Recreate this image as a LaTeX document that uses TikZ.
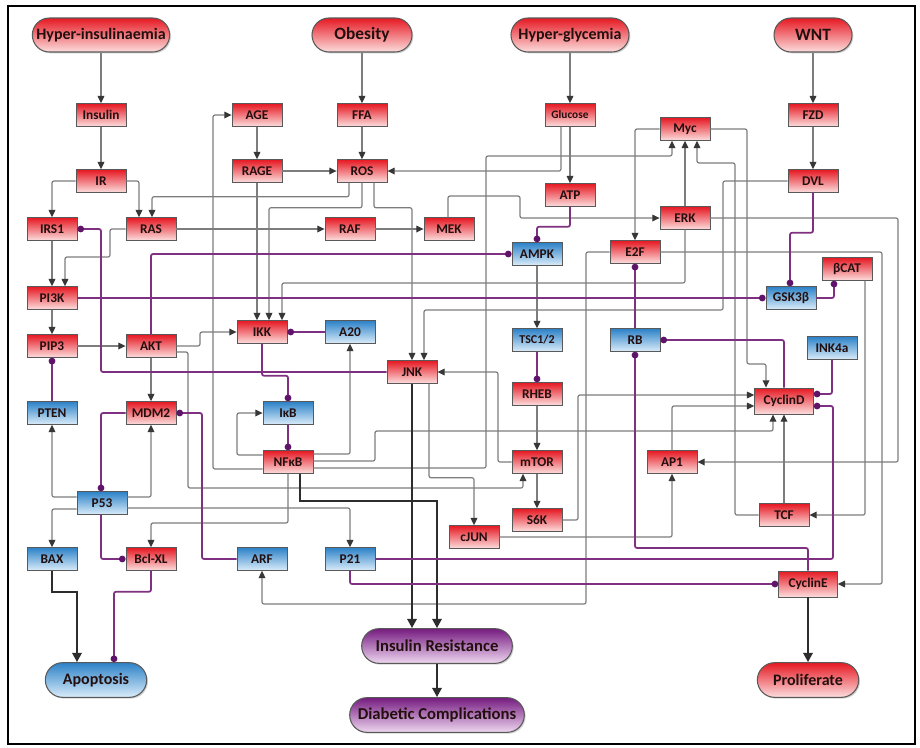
\documentclass[tikz,border=0pt]{standalone}
\usepackage{fontspec}
\setmainfont{Carlito}
\usetikzlibrary{arrows.meta,calc,shapes.misc,shadows}
\definecolor{rtop}{RGB}{230,25,35}
\definecolor{rbot}{RGB}{252,222,222}
\definecolor{btop}{RGB}{45,130,200}
\definecolor{bbot}{RGB}{218,236,249}
\definecolor{ptop}{RGB}{118,28,128}
\definecolor{pbot}{RGB}{238,215,240}
\definecolor{egray}{RGB}{125,125,125}
\definecolor{tgray}{RGB}{55,55,55}
\definecolor{inhc}{RGB}{128,48,128}
\definecolor{inhdot}{RGB}{95,20,105}
\definecolor{kline}{RGB}{45,45,45}
\definecolor{txt}{RGB}{35,15,15}
\begin{document}
\begin{tikzpicture}[x=0.75pt,y=-0.75pt,
  base/.style={draw=black!65,line width=0.6pt,font=\fontsize{10}{11}\selectfont\bfseries,text=txt,inner sep=0pt,
    minimum width=37.5pt,minimum height=17pt,drop shadow={shadow xshift=0.8pt,shadow yshift=-0.8pt,opacity=0.3}},
  rbox/.style={base,top color=rtop,bottom color=rbot},
  bbox/.style={base,top color=btop,bottom color=bbot},
  cbox/.style={rbox,minimum width=44pt,minimum height=19.5pt},
  oval/.style={rounded rectangle,draw=black!65,line width=0.8pt,font=\fontsize{12}{14}\selectfont\bfseries,text=txt,
    inner sep=0pt,minimum height=25.5pt,drop shadow={shadow xshift=1pt,shadow yshift=-1pt,opacity=0.35}},
  roval/.style={oval,top color=rtop,bottom color=rbot},
  boval/.style={oval,top color=btop,bottom color=bbot},
  poval/.style={oval,top color=ptop,bottom color=pbot,font=\fontsize{12.5}{14}\selectfont\bfseries},
  ga/.style={draw=egray,line width=0.9pt,rounded corners=1.5pt,-{Triangle[length=5.5pt,width=5pt,color=tgray]}},
  ka/.style={draw=kline,line width=1.8pt,-{Triangle[length=7pt,width=7pt,color=kline]}},
  ih/.style={draw=inhc,line width=1.3pt,rounded corners=1.5pt,-{Circle[length=5pt,color=inhdot]}}
]
\fill[white] (0,0) rectangle (920,747);
\useasboundingbox (0,0) rectangle (920,747);
\draw[line width=2.2pt,black] (8,6) rectangle (915,744);

% ovals
\node[roval,minimum width=103pt] (HI) at (101,35) {Hyper-insulinaemia};
\node[roval,minimum width=75pt,font=\fontsize{13}{15}\selectfont\bfseries] (OB) at (362,35) {Obesity};
\node[roval,minimum width=88.5pt] (HG) at (570,35) {Hyper-glycemia};
\node[roval,minimum width=58.5pt,font=\fontsize{13}{15}\selectfont\bfseries] (WNT) at (813,35) {WNT};
\node[boval,minimum width=76pt,minimum height=26pt] (Apop) at (96,680) {Apoptosis};
\node[poval,minimum width=113pt,minimum height=26pt] (IRes) at (437,646) {Insulin Resistance};
\node[poval,minimum width=131pt,minimum height=26pt] (DC) at (437,715) {Diabetic Complications};
\node[roval,minimum width=76pt,minimum height=26pt] (Prolif) at (808,680) {Proliferate};

% boxes
\node[rbox] (Insulin) at (101,115) {Insulin};
\node[rbox] (AGE) at (257,115) {AGE};
\node[rbox] (FFA) at (362,115) {FFA};
\node[rbox,font=\fontsize{8.5}{10}\selectfont\bfseries] (Glucose) at (570,115) {Glucose};
\node[rbox] (FZD) at (813,115) {FZD};
\node[rbox] (Myc) at (685,129) {Myc};
\node[rbox] (IR) at (101,181) {IR};
\node[rbox] (RAGE) at (257,171) {RAGE};
\node[rbox] (ROS) at (362,171) {ROS};
\node[rbox] (ATP) at (570,195) {ATP};
\node[rbox] (DVL) at (813,181) {DVL};
\node[rbox] (ERK) at (685,218) {ERK};
\node[rbox] (IRS1) at (52,229) {IRS1};
\node[rbox] (RAS) at (151,229) {RAS};
\node[rbox] (RAF) at (350,229) {RAF};
\node[rbox] (MEK) at (449,229) {MEK};
\node[bbox] (AMPK) at (537,254) {AMPK};
\node[rbox] (E2F) at (635,252) {E2F};
\node[rbox] (PI3K) at (52,298) {PI3K};
\node[bbox] (GSK) at (791,298) {GSK3β};
\node[rbox] (BCAT) at (847,269) {βCAT};
\node[rbox] (PIP3) at (52,346) {PIP3};
\node[rbox] (AKT) at (151,346) {AKT};
\node[rbox] (IKK) at (262,332) {IKK};
\node[bbox] (A20) at (350,332) {A20};
\node[bbox,font=\fontsize{9}{10}\selectfont\bfseries] (TSC) at (537,340) {TSC1/2};
\node[bbox] (RB) at (635,340) {RB};
\node[bbox] (INK) at (832,348) {INK4a};
\node[rbox] (JNK) at (412,372) {JNK};
\node[rbox] (RHEB) at (537,394) {RHEB};
\node[cbox] (CycD) at (784,401) {CyclinD};
\node[bbox] (PTEN) at (52,413) {PTEN};
\node[rbox] (MDM2) at (151,413) {MDM2};
\node[bbox] (IkB) at (288,413) {IκB};
\node[rbox] (NFkB) at (288,462) {NFκB};
\node[rbox] (mTOR) at (537,462) {mTOR};
\node[rbox] (AP1) at (672,462) {AP1};
\node[bbox] (P53) at (102,503) {P53};
\node[rbox] (S6K) at (537,520) {S6K};
\node[rbox] (cJUN) at (474,537) {cJUN};
\node[rbox] (TCF) at (784,515) {TCF};
\node[bbox] (BAX) at (52,559) {BAX};
\node[rbox] (BclXL) at (151,559) {Bcl-XL};
\node[bbox] (ARF) at (262,559) {ARF};
\node[bbox] (P21) at (350,559) {P21};
\node[cbox] (CycE) at (808,584) {CyclinE};

% gray activations
\draw[ga] (HI.south) -- (Insulin.north);
\draw[ga] (Insulin.south) -- (IR.north);
\draw[ga] (OB.south) -- (FFA.north);
\draw[ga] (FFA.south) -- (ROS.north);
\draw[ga] (HG.south) -- (Glucose.north);
\draw[ga] (WNT.south) -- (FZD.north);
\draw[ga] (FZD.south) -- (DVL.north);
\draw[ga] (AGE.south) -- (RAGE.north);
\draw[ga] (RAGE.east) -- (ROS.west);
\draw[ga] (IR.west) -| (IRS1.north);
\draw[ga] (IR.east) -| ($(RAS.north)+(-12,0)$);
\draw[ga] ($(ROS.south)+(-13,0)$) -- ++(0,14) -| ($(RAS.north)+(1,0)$);
\draw[ga] (ROS.south) -- ++(0,25) -| ($(IKK.north)+(7,0)$);
\draw[ga] ($(ROS.south)+(12,0)$) -- ++(0,25) -| (JNK.north);
\draw[ga] (RAGE.south) -- ($(IKK.north)+(-5,0)$);
\draw[ga] (RAS.east) -- (RAF.west);
\draw[ga] (RAF.east) -- (MEK.west);
\draw[ga] ($(MEK.north)+(-1,0)$) |- (520,196) |- (ERK.west);
\draw[ga] (ERK.north) -- (Myc.south);
\draw[ga] (IRS1.south) -- (PI3K.north);
\draw[ga] (RAS.west) -- (110,229) |- (65,257) -- ($(PI3K.north)+(13,0)$);
\draw[ga] (PI3K.south) -- (PIP3.north);
\draw[ga] (PIP3.east) -- (AKT.west);
\draw[ga] (AKT.east) -- (200,346) |- (IKK.west);
\draw[ga] (AKT.south) -- (MDM2.north);
\draw[ga] ($(AKT.east)+(0,6)$) -| (188,488) -| ($(mTOR.south)+(-14,0)$);
\draw[ga] ($(NFkB.east)+(0,-8)$) -| (A20.south);
\draw[ga] ($(NFkB.west)+(0,-7)$) -- (237,455) |- (IkB.west);
\draw[ga] ($(NFkB.west)+(0,7)$) -- (213,469) |- (AGE.west);
\draw[ga] ($(NFkB.east)+(0,-1)$) -- (375,461) |- (773,431) -- ($(CycD.south)+(-11,0)$);
\draw[ga] ($(NFkB.east)+(0,6)$) -- (486,468) -- (486,156) -| ($(Myc.south)+(-13,0)$);
\draw[ga] ($(JNK.south)+(17,0)$) -- ++(0,94) -| (cJUN.north);
\draw[ga] (mTOR.west) -- (498,462) |- (JNK.east);
\draw[ga] (DVL.west) -| (723,310) -| ($(JNK.north)+(12,0)$);
\draw[ga] (ERK.south) -- (685,283) -| ($(IKK.north)+(20,0)$);
\draw[ga] (ERK.east) -- (898,218) |- (AP1.east);
\draw[ga] (Myc.west) -| (E2F.north);
\draw[ga] (Myc.east) -| (747,364) -| ($(CycD.north)+(-18,0)$);
\draw[ga] (TCF.west) -| (735,163) -| ($(Myc.south)+(12,0)$);
\draw[ga] (TCF.north) -- (CycD.south);
\draw[ga] ($(BCAT.south)+(18,0)$) |- (TCF.east);
\draw[ga] (E2F.east) -- (882,252) |- (CycE.east);
\draw[ga] (E2F.west) -| (586,604) -| (ARF.south);
\draw[ga] (S6K.east) -| (578,395) -- ($(CycD.west)+(0,-6)$);
\draw[ga] (AP1.north) |- ($(CycD.west)+(0,5)$);
\draw[ga] (cJUN.east) -| (AP1.south);
\draw[ga] (AMPK.south) -- (TSC.north);
\draw[ga] (RHEB.south) -- (mTOR.north);
\draw[ga] (mTOR.south) -- (S6K.north);
\draw[ga] (Glucose.south) -- (ATP.north);
\draw[ga] ($(Glucose.south)+(-9,0)$) |- (ROS.east);
\draw[ga] ($(P53.west)+(0,-6)$) -| (PTEN.south);
\draw[ga] ($(P53.west)+(0,6)$) -| (BAX.north);
\draw[ga] ($(P53.east)+(0,-6)$) -| (MDM2.south);
\draw[ga] ($(P53.east)+(0,5)$) -| (P21.north);
\draw[ga] (NFkB.south) |- (151,523) -- (BclXL.north);

% thick outputs
\draw[ka] (JNK.south) -- (JNK.south |- IRes.north);
\draw[ka] ($(NFkB.south)+(12,0)$) |- (437,501) -- (IRes.north);
\draw[ka] (IRes.south) -- (DC.north);
\draw[ka] (BAX.south) -- ++(0,21) -| ($(Apop.north)+(-19,0)$);
\draw[ka] (CycE.south) -- (Prolif.north);

% inhibitions
\draw[ih] (JNK.west) -| (101,229) -- (IRS1.east);
\draw[ih] (A20.west) -- (IKK.east);
\draw[ih] (IKK.south) -- ++(0,32) -| (IkB.north);
\draw[ih] (IkB.south) -- (NFkB.north);
\draw[ih] (PTEN.north) -- (PIP3.south);
\draw[ih] (MDM2.west) -| ($(P53.north)+(-1,0)$);
\draw[ih] (ARF.west) -- (202,559) |- (MDM2.east);
\draw[ih] ($(P53.south)+(-1,0)$) |- (BclXL.west);
\draw[ih] (BclXL.south) -- ++(0,21) -| ($(Apop.north)+(18,0)$);
\draw[ih] (AKT.north) |- (AMPK.west);
\draw[ih] (ATP.south) -- ++(0,20) -| (AMPK.north);
\draw[ih] (TSC.south) -- (RHEB.north);
\draw[ih] (PI3K.east) -- (GSK.west);
\draw[ih] (DVL.south) -- ++(0,40) -| ($(GSK.north)+(-1,0)$);
\draw[ih] (GSK.east) -| ($(BCAT.south)+(-13,0)$);
\draw[ih] (RB.north) -- (E2F.south);
\draw[ih] (CycD.north) |- (RB.east);
\draw[ih] (CycE.north) |- (635,548) -- (RB.south);
\draw[ih] (INK.south) |- ($(CycD.east)+(0,-7)$);
\draw[ih] (P21.east) -| (833,406) -- ($(CycD.east)+(0,5)$);
\draw[ih] (P21.south) |- (CycE.west);
\end{tikzpicture}
\end{document}
